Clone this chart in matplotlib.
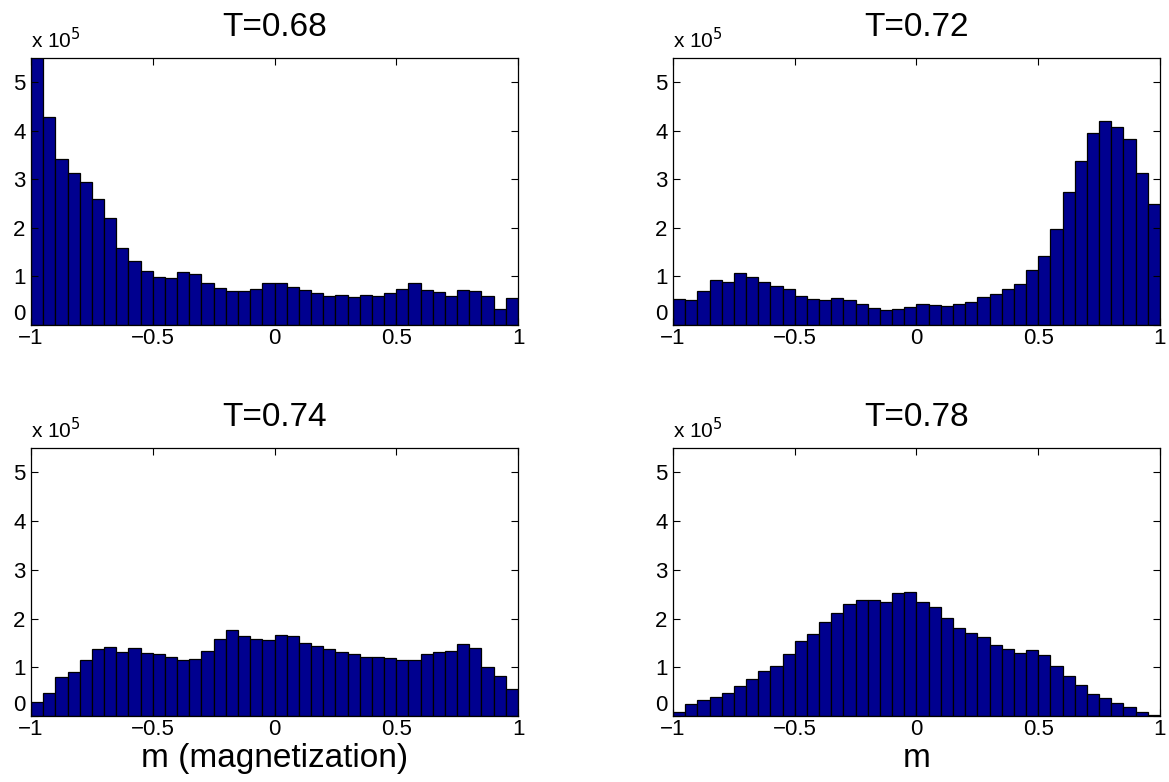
import numpy as np
import matplotlib
matplotlib.use('Agg')
import matplotlib.pyplot as plt

plt.rcParams['font.family'] = ['Liberation Sans', 'DejaVu Sans']

# bin edges of the histograms: 40 bins from -1 to 1
edges = np.linspace(-1, 1, 41)

# bin counts (units of 1e5)
T068 = [5.8, 4.28, 3.41, 3.13, 2.95, 2.60, 2.21, 1.59, 1.32, 1.11,
        0.99, 0.97, 1.10, 1.05, 0.86, 0.76, 0.70, 0.70, 0.74, 0.87,
        0.86, 0.78, 0.72, 0.65, 0.60, 0.61, 0.57, 0.62, 0.60, 0.65,
        0.74, 0.86, 0.72, 0.68, 0.59, 0.72, 0.70, 0.59, 0.32, 0.55]
T072 = [0.53, 0.51, 0.71, 0.92, 0.89, 1.07, 0.98, 0.88, 0.80, 0.74,
        0.59, 0.53, 0.52, 0.55, 0.51, 0.43, 0.34, 0.30, 0.33, 0.38,
        0.43, 0.41, 0.40, 0.43, 0.48, 0.58, 0.64, 0.74, 0.85, 1.13,
        1.42, 1.97, 2.74, 3.37, 3.96, 4.21, 4.07, 3.84, 3.14, 2.50]
T074 = [0.29, 0.48, 0.81, 0.90, 1.14, 1.38, 1.42, 1.32, 1.40, 1.30,
        1.28, 1.21, 1.15, 1.18, 1.34, 1.58, 1.76, 1.65, 1.58, 1.55,
        1.66, 1.64, 1.49, 1.43, 1.38, 1.31, 1.28, 1.21, 1.21, 1.19,
        1.15, 1.15, 1.27, 1.32, 1.33, 1.47, 1.39, 1.00, 0.82, 0.56]
T078 = [0.08, 0.25, 0.33, 0.39, 0.47, 0.61, 0.75, 0.93, 1.03, 1.27,
        1.53, 1.68, 1.92, 2.11, 2.30, 2.38, 2.38, 2.34, 2.53, 2.54,
        2.34, 2.23, 2.02, 1.80, 1.71, 1.62, 1.46, 1.38, 1.30, 1.36,
        1.26, 1.02, 0.82, 0.63, 0.45, 0.37, 0.27, 0.18, 0.08, 0.02]

titles = ['T=0.68', 'T=0.72', 'T=0.74', 'T=0.78']
xlabels = ['', '', 'm (magnetization)', 'm']
counts = [T068, T072, T074, T078]

W, H = 1169, 782
fig = plt.figure(figsize=(W/100, H/100), dpi=100)

# axes boxes in pixels: left, top, right, bottom
boxes = [(31, 58, 518, 325), (673, 58, 1160, 325),
         (31, 448, 518, 716), (673, 448, 1160, 716)]

for k in range(4):
    l, t, r, b = boxes[k]
    ax = fig.add_axes([l/W, 1-b/H, (r-l)/W, (b-t)/H])
    ax.bar(edges[:-1], counts[k], width=np.diff(edges), align='edge',
           color='#00008F', edgecolor='black', linewidth=0.9)
    ax.set_xlim(-1, 1)
    ax.set_ylim(0, 5.5)
    ax.set_xticks([-1, -0.5, 0, 0.5, 1])
    ax.set_xticklabels(['\u22121', '\u22120.5', '0', '0.5', '1'])
    ax.set_yticks([0, 1, 2, 3, 4, 5])
    ax.tick_params(direction='in', top=True, right=True, length=5,
                   width=0.8, labelsize=16)
    ax.tick_params(axis='x', pad=2)
    ax.tick_params(axis='y', pad=4)
    # MATLAB lifts the 0 label off the corner
    ax.get_yticklabels()[0].set_va('bottom')
    for s in ax.spines.values():
        s.set_linewidth(0.9)
    ax.set_title(titles[k], fontsize=24, pad=15.5)
    if xlabels[k]:
        ax.set_xlabel(xlabels[k], fontsize=24, labelpad=2)
    ax.text(0, 1.02, r'x 10$^5$', transform=ax.transAxes,
            fontsize=15, ha='left', va='bottom')

fig.savefig('out.png', dpi=100)
